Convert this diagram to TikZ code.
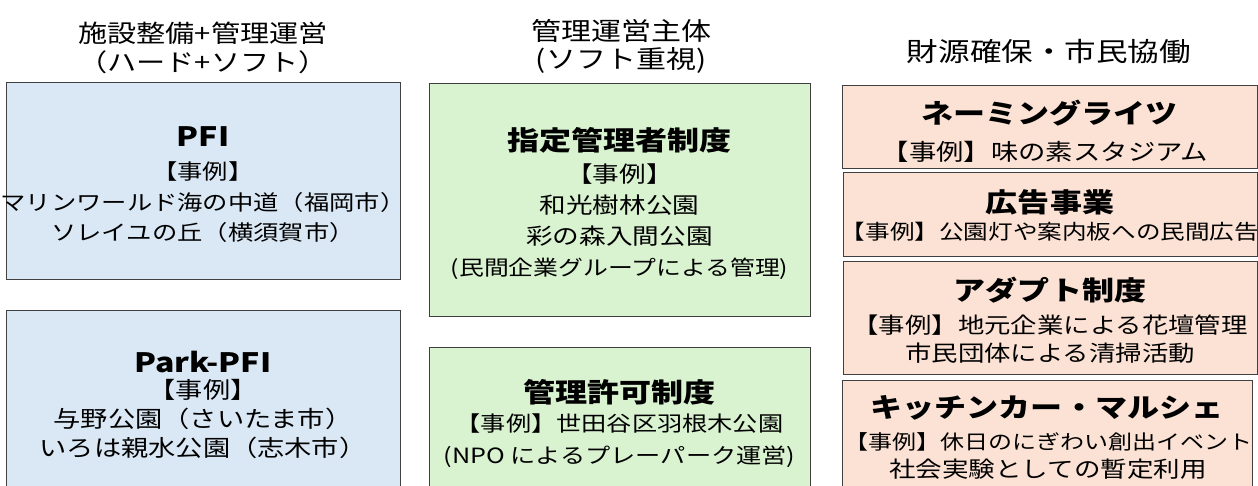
\documentclass[tikz,border=0pt]{standalone}
\usepackage{fontspec}
\setmainfont[FakeStretch=1.2]{Noto Sans CJK JP}
\usepackage{tikz}

\definecolor{hardfill}{HTML}{DAE8F5}
\definecolor{softfill}{HTML}{D9F2D0}
\definecolor{fundfill}{HTML}{FBE2D5}
\definecolor{boxline}{HTML}{404040}

\tikzset{
	box/.style={draw=boxline, line width=1pt, anchor=north west, inner sep=0pt},
	hardbox/.style={box, fill=hardfill, minimum width=394pt},
	softbox/.style={box, fill=softfill, minimum width=381pt},
	fundbox/.style={box, fill=fundfill},
	head/.style={align=center, inner sep=0pt, font=\fontsize{24.3}{29}\selectfont},
	title/.style={inner sep=0pt, font=\fontsize{26.7}{30}\selectfont\bfseries},
	body/.style={align=center, inner sep=0pt}
}

\begin{document}
\begin{tikzpicture}[x=1pt,y=-1pt]
	\useasboundingbox (0,0) rectangle (1258,486);
	\clip (0,0) rectangle (1258,486);
	
	% column heads
	\node[head] (hardhead) at (203,47.5) {施設整備+管理運営\\（ハード+ソフト）};
	\node[head, font=\fontsize{25}{28}\selectfont] (softhead) at (621,46) {管理運営主体\\(ソフト重視)};
	\node[head, font=\fontsize{26.3}{28}\selectfont] (fundhead) at (1049,52) {財源確保・市民協働};
	
	% hard + soft
	\node[hardbox, minimum height=197pt] (pfi) at (6,82) {};
	\node[title] (pfititle) at (203,137) {PFI};
	\node[body, font=\fontsize{21.1}{30.5}\selectfont] (pfibody) at (203,202.5)
		{【事例】\\マリンワールド海の中道（福岡市）\\ソレイユの丘（横須賀市）};
	
	\node[hardbox, minimum height=200pt] (parkpfi) at (6,310) {};
	\node[title] (parkpfititle) at (203,362) {Park-PFI};
	\node[body, font=\fontsize{22.7}{29}\selectfont] (parkpfibody) at (203,419)
		{【事例】\\与野公園（さいたま市）\\いろは親水公園（志木市）};
	
	% soft
	\node[softbox, minimum height=233pt] (shitei) at (429,83) {};
	\node[title] (shiteititle) at (619.5,140) {指定管理者制度};
	\node[body, font=\fontsize{22.2}{31}\selectfont] (shiteibody) at (619.5,221.5)
		{【事例】\\和光樹林公園\\彩の森入間公園\\{\fontsize{20.7}{31}\selectfont (民間企業グループによる管理)}};
	
	\node[softbox, minimum height=160pt] (kyoka) at (429,347) {};
	\node[title] (kyokatitle) at (619.5,392) {管理許可制度};
	\node[body, font=\fontsize{21}{32}\selectfont] (kyokabody) at (619.5,441)
		{【事例】世田谷区羽根木公園\\(NPO によるプレーパーク運営)};
	
	% funds + citizens
	\node[fundbox, minimum width=415pt, minimum height=83pt] (naming) at (842,85) {};
	\node[title] (namingtitle) at (1049.5,113) {ネーミングライツ};
	\node[body, font=\fontsize{22.8}{28}\selectfont] (namingbody) at (1045,152)
		{【事例】味の素スタジアム};
	
	\node[fundbox, minimum width=414pt, minimum height=84pt] (koukoku) at (843,172) {};
	\node[title] (koukokutitle) at (1050,202) {広告事業};
	\node[body, font=\fontsize{20.5}{28}\selectfont] (koukokubody) at (1050,232)
		{【事例】公園灯や案内板への民間広告};
	
	\node[fundbox, minimum width=414pt, minimum height=113pt] (adopt) at (843,261) {};
	\node[title] (adopttitle) at (1050,290) {アダプト制度};
	\node[body, font=\fontsize{22}{28}\selectfont] (adoptbody) at (1050,339)
		{【事例】地元企業による花壇管理\\市民団体による清掃活動};
	
	\node[fundbox, minimum width=410pt, minimum height=130pt] (kitchen) at (842,380) {};
	\node[title] (kitchentitle) at (1047,408) {キッチンカー・マルシェ};
	\node[body, font=\fontsize{22.1}{28}\selectfont] (kitchenbody) at (1048,456)
		{{\fontsize{20}{28}\selectfont 【事例】休日のにぎわい創出イベント}\\社会実験としての暫定利用};
	
\end{tikzpicture}
\end{document}
